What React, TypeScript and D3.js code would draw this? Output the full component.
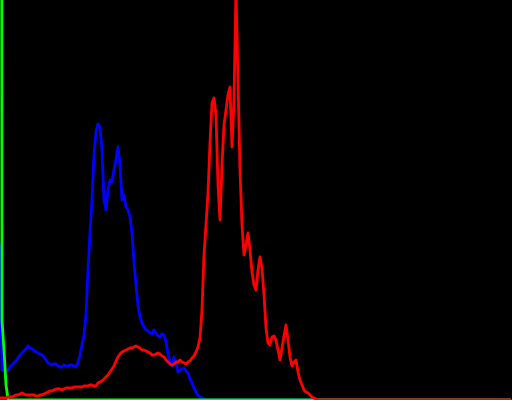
import React from "react";
import * as d3 from "d3";

const width = 512;
const height = 400;

// 256 bins per channel, counts already scaled to the 400px plot height
const blueHist = [
  155, 30, 29, 28, 30, 33, 35, 37, 39, 42,
  45, 47, 49, 51, 54, 52, 51, 50, 48, 47,
  46, 45, 43, 40, 37, 36, 35, 36, 36, 34,
  33, 33, 35, 34, 34, 35, 35, 34, 33, 37,
  45, 55, 65, 85, 130, 167, 200, 245, 268, 276,
  273, 250, 200, 190, 210, 220, 218, 230, 240, 253,
  235, 200, 205, 193, 190, 183, 167, 138, 115, 95,
  83, 77, 73, 70, 69, 67, 66, 70, 67, 64,
  63, 66, 65, 58, 47, 38, 34, 43, 38, 28,
  30, 31, 32, 29, 27, 21, 17, 12, 8, 5,
  3, 2, 1,
  0, 0, 0, 0, 0, 0, 0, 0, 0, 0, 0, 0, 0, 0, 0, 0, 0, 0, 0, 0,
  0, 0, 0, 0, 0, 0, 0, 0, 0, 0, 0, 0, 0, 0, 0, 0, 0, 0, 0, 0,
  0, 0, 0, 0, 0, 0, 0, 0, 0, 0, 0, 0, 0, 0, 0, 0, 0, 0, 0, 0,
  0, 0, 0, 0, 0, 0, 0, 0, 0, 0, 0, 0, 0, 0, 0, 0, 0, 0, 0, 0,
  0, 0, 0, 0, 0, 0, 0, 0, 0, 0, 0, 0, 0, 0, 0, 0, 0, 0, 0, 0,
  0, 0, 0, 0, 0, 0, 0, 0, 0, 0, 0, 0, 0, 0, 0, 0, 0, 0, 0, 0,
  0, 0, 0, 0, 0, 0, 0, 0, 0, 0, 0, 0, 0, 0, 0, 0, 0, 0, 0, 0,
  0, 0, 0, 0, 0, 0, 0, 0, 0, 0, 0, 0, 0,
];

const greenHist = [
  3000, 80, 50, 15, 1,
  0, 0, 0, 0, 0, 0, 0, 0, 0, 0, 0, 0, 0, 0, 0, 0, 0, 0, 0, 0,
  0, 0, 0, 0, 0, 0, 0, 0, 0, 0, 0, 0, 0, 0, 0, 0, 0, 0, 0, 0,
  0, 0, 0, 0, 0, 0, 0, 0, 0, 0, 0, 0, 0, 0, 0, 0, 0, 0, 0, 0,
  0, 0, 0, 0, 0, 0, 0, 0, 0, 0, 0, 0, 0, 0, 0, 0, 0, 0, 0, 0,
  0, 0, 0, 0, 0, 0, 0, 0, 0, 0, 0, 0, 0, 0, 0, 0, 0, 0, 0, 0,
  0, 0, 0, 0, 0, 0, 0, 0, 0, 0, 0, 0, 0, 0, 0, 0, 0, 0, 0, 0,
  0, 0, 0, 0, 0, 0, 0, 0, 0, 0, 0, 0, 0, 0, 0, 0, 0, 0, 0, 0,
  0, 0, 0, 0, 0, 0, 0, 0, 0, 0, 0, 0, 0, 0, 0, 0, 0, 0, 0, 0,
  0, 0, 0, 0, 0, 0, 0, 0, 0, 0, 0, 0, 0, 0, 0, 0, 0, 0, 0, 0,
  0, 0, 0, 0, 0, 0, 0, 0, 0, 0, 0, 0, 0, 0, 0, 0, 0, 0, 0, 0,
  0, 0, 0, 0, 0, 0, 0, 0, 0, 0, 0, 0, 0, 0, 0, 0, 0, 0, 0, 0,
  0, 0, 0, 0, 0, 0, 0, 0, 0, 0, 0, 0, 0, 0, 0, 0, 0, 0, 0, 0,
  0, 0, 0, 0, 0, 0, 0, 0, 0, 0, 0,
];

const redHist = [
  2, 2, 2, 2, 3, 3, 3, 4, 5, 5,
  6, 7, 6, 5, 5, 5, 5, 5, 4, 4,
  5, 5, 6, 7, 8, 9, 9, 10, 11, 11,
  11, 10, 11, 12, 12, 12, 12, 13, 13, 13,
  13, 13, 14, 14, 14, 15, 15, 14, 14, 17,
  18, 19, 21, 23, 25, 28, 31, 34, 39, 43,
  46, 48, 49, 50, 51, 52, 52, 53, 54, 53,
  52, 50, 50, 49, 48, 47, 45, 45, 46, 47,
  46, 44, 43, 40, 38, 36, 35, 36, 38, 38,
  40, 38, 37, 36, 38, 39, 42, 44, 48, 53,
  62, 90, 145, 175, 207, 257, 297, 302, 285, 215,
  180, 235, 275, 290, 305, 313, 253, 300, 410, 320,
  230, 175, 145, 155, 167, 150, 128, 115, 110, 130,
  143, 132, 105, 72, 57, 55, 63, 64, 60, 50,
  40, 52, 64, 75, 60, 43, 34, 38, 40, 28,
  20, 15, 10, 8, 7, 5, 3, 2, 1,
  0, 0, 0, 0, 0, 0, 0, 0, 0, 0, 0, 0, 0, 0, 0, 0, 0, 0, 0, 0,
  0, 0, 0, 0, 0, 0, 0, 0, 0, 0, 0, 0, 0, 0, 0, 0, 0, 0, 0, 0,
  0, 0, 0, 0, 0, 0, 0, 0, 0, 0, 0, 0, 0, 0, 0, 0, 0, 0, 0, 0,
  0, 0, 0, 0, 0, 0, 0, 0, 0, 0, 0, 0, 0, 0, 0, 0, 0, 0, 0, 0,
  0, 0, 0, 0, 0, 0, 0, 0, 0, 0, 0, 0, 0, 0, 0, 0, 0,
];

// drawn in this order, red ends up on top
const channels = [
  { name: "blue", color: "#0000ff", values: blueHist },
  { name: "green", color: "#00ff00", values: greenHist },
  { name: "red", color: "#ff0000", values: redHist },
];

export default function App() {
  const x = d3.scaleLinear().domain([0, 255]).range([0, 510]);
  const y = d3.scaleLinear().domain([0, height]).range([height, 0]);
  const line = d3
    .line<number>()
    .x((d, i) => x(i))
    .y((d) => y(d));

  return (
    <svg
      width={width}
      height={height}
      style={{ position: "absolute", left: 0, top: 0, display: "block" }}
    >
      <rect width={width} height={height} fill="#000" />
      {channels.map((c) => (
        <path
          key={c.name}
          d={line(c.values) || ""}
          fill="none"
          stroke={c.color}
          strokeWidth={2.8}
          strokeLinejoin="round"
          strokeLinecap="round"
        />
      ))}
    </svg>
  );
}
